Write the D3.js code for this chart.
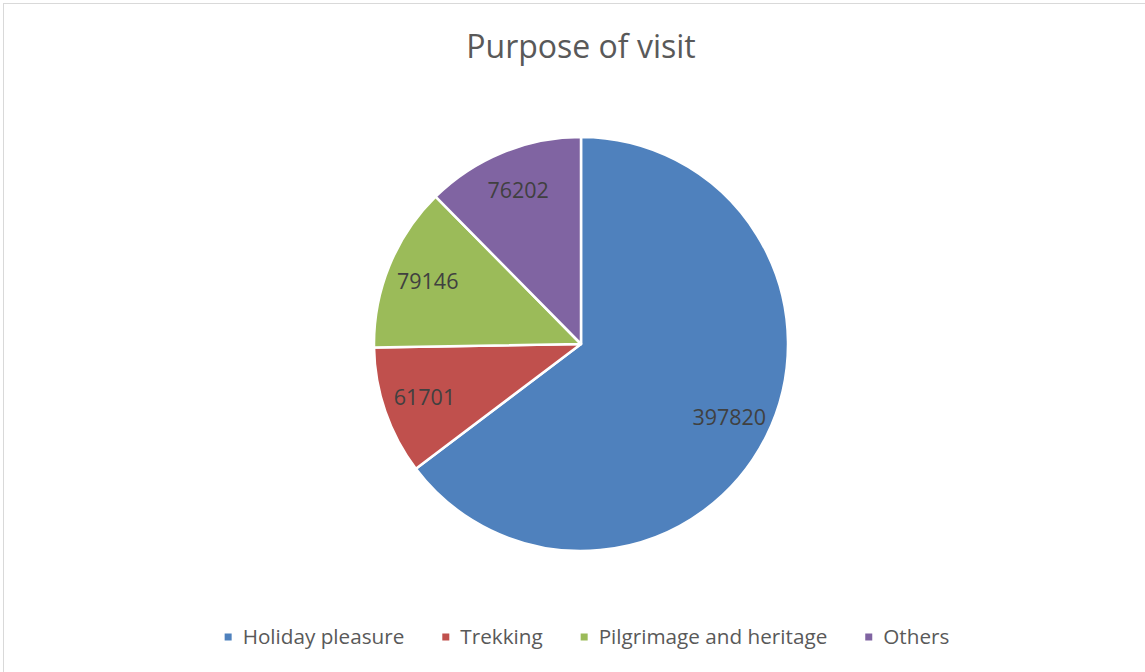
<!DOCTYPE html>
<html>
<head>
<meta charset="utf-8">
<script src="https://cdn.jsdelivr.net/npm/d3@7"></script>
<style>
  body { margin: 0; background: #fff; }
  svg { display: block; }
</style>
</head>
<body>
<div id="chart"></div>
<script>
// data
var categories = ['Holiday pleasure', 'Trekking', 'Pilgrimage and heritage', 'Others'];
var values = [397820, 61701, 79146, 76202];
var colors = ['#4F81BD', '#C0504D', '#9BBB59', '#8064A2'];
var title = 'Purpose of visit';

var width = 1145, height = 672;
var mainFont = '"Open Sans", "Noto Sans", sans-serif';
var cx = 581, cy = 344, radius = 207;

window.onload = function() {

    var svg = d3.select('#chart').append('svg')
        .attr('width', width)
        .attr('height', height);

    svg.append('rect')
        .attr('width', width)
        .attr('height', height)
        .attr('fill', '#fff');

    // chart area border
    svg.append('rect')
        .attr('x', 3.5).attr('y', 3.5)
        .attr('width', width + 10).attr('height', height + 10)
        .attr('fill', 'none')
        .attr('stroke', '#d9d9d9')
        .attr('stroke-width', 1);

    svg.append('text')
        .attr('x', cx).attr('y', 58)
        .attr('text-anchor', 'middle')
        .style('font-family', mainFont)
        .style('font-size', '32px')
        .attr('fill', '#595959')
        .text(title);

    var data = categories.map(function(c, i) {
        return { name: c, value: values[i], color: colors[i] };
    });

    var pie = d3.pie().sort(null).value(function(d) { return d.value; });
    var arc = d3.arc().innerRadius(0).outerRadius(radius);
    var labelArc = d3.arc().innerRadius(radius * 0.8).outerRadius(radius * 0.8);

    var g = svg.append('g').attr('transform', 'translate(' + cx + ',' + cy + ')');
    var arcs = pie(data);

    g.selectAll('path.slice')
        .data(arcs)
        .enter().append('path')
        .attr('class', 'slice')
        .attr('d', arc)
        .attr('fill', function(d) { return d.data.color; })
        .attr('stroke', '#fff')
        .attr('stroke-width', 2.5)
        .attr('stroke-linejoin', 'round');

    g.selectAll('text.label')
        .data(arcs)
        .enter().append('text')
        .attr('class', 'label')
        .attr('transform', function(d) {
            var c = labelArc.centroid(d);
            return 'translate(' + c[0] + ',' + c[1] + ')';
        })
        .attr('text-anchor', 'middle')
        .attr('dy', '0.34em')
        .style('font-family', mainFont)
        .style('font-size', '21.5px')
        .attr('fill', '#404040')
        .text(function(d) { return d.data.value; });

    // legend
    var legend = svg.append('g');
    var items = legend.selectAll('g.item')
        .data(data)
        .enter().append('g')
        .attr('class', 'item');

    items.append('rect')
        .attr('width', 7).attr('height', 7)
        .attr('y', -3.5)
        .attr('fill', function(d) { return d.color; });

    items.append('text')
        .attr('x', 18)
        .attr('dy', '0.34em')
        .style('font-family', mainFont)
        .style('font-size', '20.7px')
        .attr('fill', '#595959')
        .text(function(d) { return d.name; });

    var gap = 38, offset = 0;
    items.each(function() {
        var w = d3.select(this).select('text').node().getComputedTextLength() + 18;
        d3.select(this).attr('transform', 'translate(' + offset + ',0)');
        offset += w + gap;
    });
    var total = offset - gap;
    legend.attr('transform', 'translate(' + (587 - total / 2) + ',637)');
};
</script>
</body>
</html>
